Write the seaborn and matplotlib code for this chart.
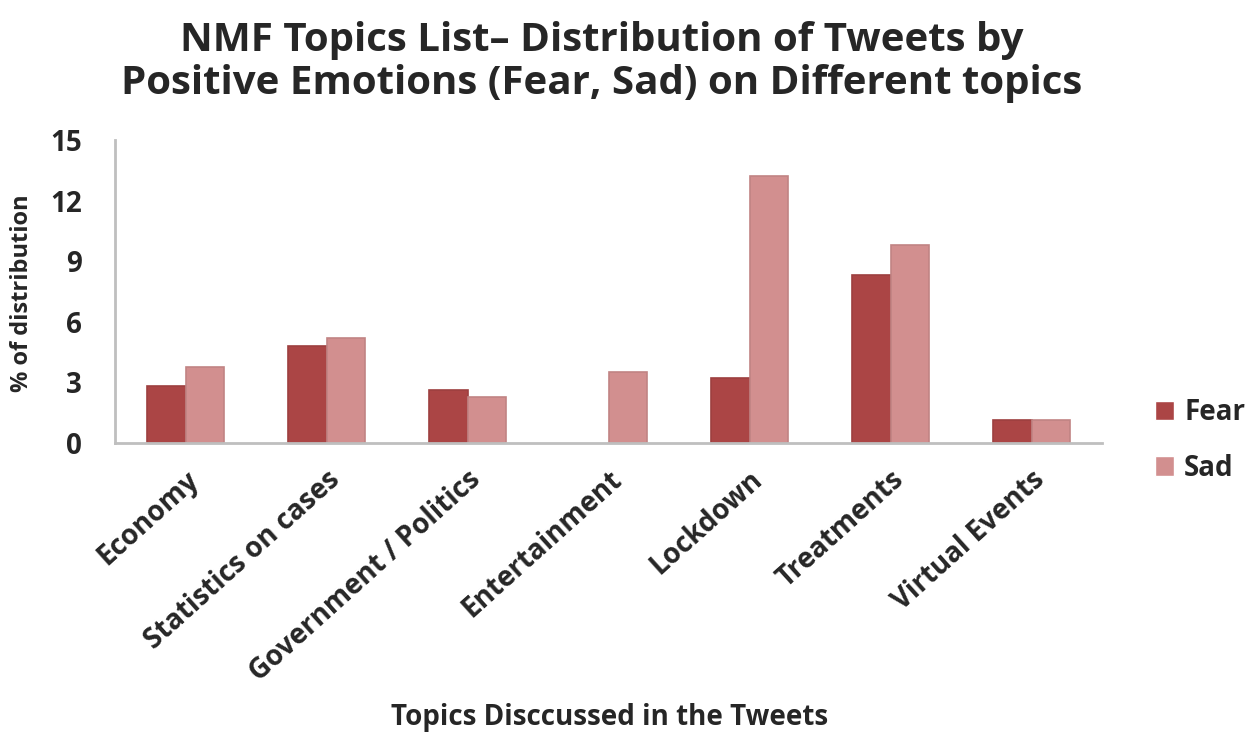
import matplotlib
matplotlib.use("Agg")
import matplotlib.pyplot as plt
import seaborn as sns
import pandas as pd
import numpy as np

topics = ["Economy", "Statistics on cases", "Government / Politics", "Entertainment",
          "Lockdown", "Treatments", "Virtual Events"]
fear = [2.8, 4.8, 2.6, 0.0, 3.2, 8.3, 1.15]
sad = [3.75, 5.2, 2.3, 3.5, 13.2, 9.8, 1.15]
yticks = [0, 3, 6, 9, 12, 15]

df = pd.DataFrame({
    "Topic": topics * 2,
    "Emotion": ["Fear"] * len(topics) + ["Sad"] * len(topics),
    "Value": fear + sad,
})

sns.set_theme(style="white")
plt.rcParams['font.family'] = ['Open Sans', 'DejaVu Sans']

fig = plt.figure(figsize=(12.5, 7.4), dpi=100)
ax = fig.add_axes([0.092, 0.4014, 0.7896, 0.4094])

palette = {"Fear": "#AB4545", "Sad": "#D28F8F"}
sns.barplot(data=df, x="Topic", y="Value", hue="Emotion", order=topics,
            hue_order=["Fear", "Sad"], palette=palette, width=0.55,
            saturation=1, ax=ax, legend=True)
for p in ax.patches:
    if p.get_height() > 0:
        fc = p.get_facecolor()
        p.set_edgecolor(tuple(c * 0.92 for c in fc[:3]) + (1,))
        p.set_linewidth(1.2)

ax.set_xlim(-0.5, len(topics) - 0.5)
ax.set_ylim(0, 15)
ax.set_yticks(yticks)
ax.set_yticklabels([str(v) for v in yticks], fontsize=20, fontweight="bold")

ax.set_xticks(range(len(topics)))
ax.set_xticklabels(topics, rotation=42, ha="right", rotation_mode="anchor",
                   fontsize=20, fontweight="bold")
ax.set_xticks(np.arange(-0.5, len(topics), 1), minor=True)
ax.tick_params(axis="x", which="major", length=0, pad=16)
ax.tick_params(axis="x", which="minor", length=6, width=1.5, color="#BFBFBF", direction="out")
ax.tick_params(axis="y", which="major", length=6, width=1.5, color="#BFBFBF", direction="out", pad=18)

for s in ["top", "right"]:
    ax.spines[s].set_visible(False)
for s in ["left", "bottom"]:
    ax.spines[s].set_color("#BFBFBF")
    ax.spines[s].set_linewidth(2)

ax.set_xlabel("")
ax.set_ylabel("")
fig.text(22 / 1250, 1 - 293 / 740, "% of distribution", rotation=90, ha="center", va="center",
         fontsize=17, fontweight="bold")
fig.text(610 / 1250, 1 - 718 / 740, "Topics Disccussed in the Tweets", ha="center", va="center",
         fontsize=20, fontweight="bold")

fig.text(602 / 1250, 1 - 62 / 740, "NMF Topics List\u2013 Distribution of Tweets by\nPositive Emotions (Fear, Sad) on Different topics",
         ha="center", va="center", fontsize=29, fontweight="bold", linespacing=1.12)

leg = ax.legend(loc="center left", frameon=False,
                prop={"weight": "bold", "size": 20},
                handlelength=0.7, handleheight=0.7, labelspacing=0.95, handletextpad=0.35,
                borderpad=0, borderaxespad=0)
leg.set_bbox_to_anchor((1155 / 1250, 1 - 440.5 / 740), transform=fig.transFigure)

fig.savefig("out.png", dpi=100)
